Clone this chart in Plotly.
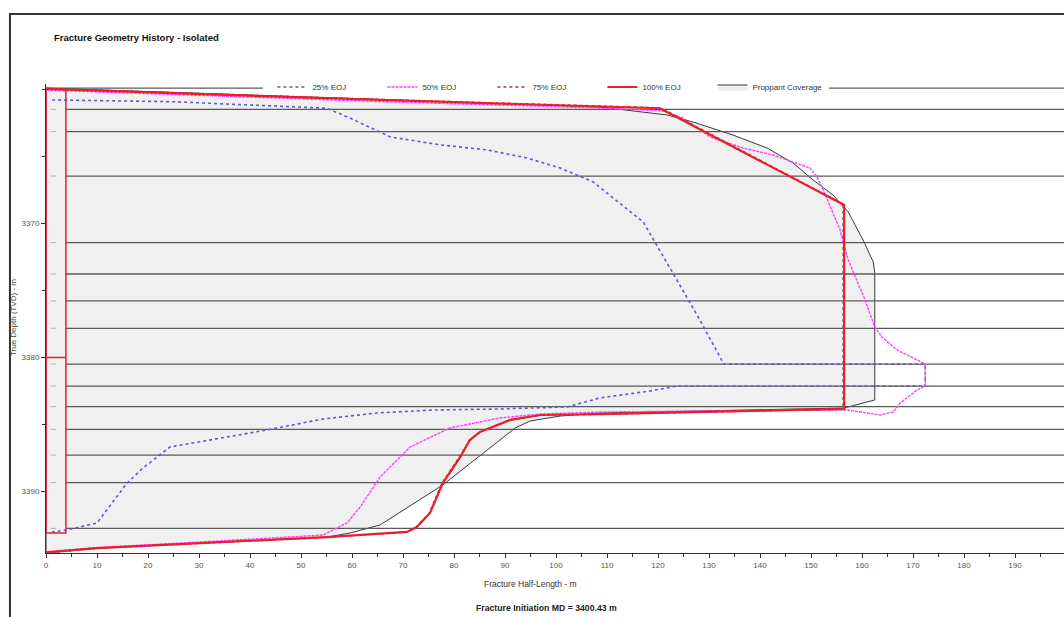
import plotly.graph_objects as go

# ---------------- data ----------------
# Layer boundaries (TVD, m)
layer_depths = [3359.9, 3361.48, 3363.15, 3366.46, 3371.43, 3373.77, 3375.78, 3377.82,
                3380.49, 3382.13, 3383.67, 3385.36, 3387.28, 3389.34, 3392.75]

# 25% EOJ
eoj25_x = [1.2, 24.9, 44.5, 55.1, 59.6, 67.5, 77.3, 86.5, 94.3, 100.8, 107.3, 117.1, 122.9,
           128.2, 132.9, 172.4, 172.4, 123.7, 118.4, 108.6, 102.2, 89.0, 75.9, 64.9, 54.3,
           43.3, 24.3, 19.0, 15.9, 10.0, 4.1, 1.2]
eoj25_d = [3360.78, 3360.91, 3361.23, 3361.40, 3362.13, 3363.54, 3364.13, 3364.51, 3365.11,
           3365.86, 3366.90, 3369.89, 3373.69, 3377.20, 3380.49, 3380.49, 3382.13, 3382.13,
           3382.50, 3383.02, 3383.69, 3383.84, 3383.92, 3384.14, 3384.59, 3385.41, 3386.68,
           3388.25, 3389.37, 3392.35, 3392.87, 3393.02]

# 50% EOJ
eoj50_x = [0.0, 65.5, 108.6, 121.0, 124.9, 130.2, 136.7, 142.5, 149.8, 151.2, 152.4, 154.3,
           155.7, 157.3, 159.0, 160.6, 162.5, 163.9, 166.9, 170.8, 172.4, 172.4, 170.8, 167.5,
           166.1, 163.5, 160.2, 157.1, 128.2, 108.6, 96.9, 89.0, 79.2, 71.4, 65.5, 61.6, 59.0,
           54.3, 30.2, 10.0, 0.0]
eoj50_d = [3360.04, 3360.90, 3361.38, 3361.60, 3362.13, 3363.54, 3364.37, 3364.89, 3365.86,
           3366.53, 3367.50, 3369.22, 3370.49, 3372.72, 3374.22, 3375.71, 3377.72, 3378.47,
           3379.44, 3380.19, 3380.49, 3382.13, 3382.43, 3383.40, 3384.07, 3384.29, 3384.07,
           3383.92, 3383.99, 3384.07, 3384.22, 3384.51, 3385.26, 3386.68, 3388.92, 3391.16,
           3392.35, 3393.25, 3393.77, 3394.18, 3394.51]

# 75% EOJ
eoj75_x = [0.0, 65.5, 120.0, 121.2, 156.3, 156.3, 108.6, 96.9, 91.0, 87.0, 85.0, 83.0, 81.0,
           77.6, 75.1, 72.5, 70.6, 55.1, 30.2, 10.0, 0.0]
eoj75_d = [3359.92, 3360.74, 3361.36, 3361.50, 3368.55, 3383.86, 3384.24, 3384.31, 3384.68,
           3385.28, 3385.58, 3386.18, 3387.45, 3389.39, 3391.62, 3392.67, 3393.04, 3393.42,
           3393.86, 3394.24, 3394.60]

# 100% EOJ
eoj100_x = [0.0, 65.5, 120.4, 121.0, 156.5, 156.5, 108.6, 96.9, 91.0, 87.1, 85.1, 83.1, 81.2,
            77.8, 75.3, 72.7, 70.8, 55.1, 30.2, 10.0, 0.0]
eoj100_d = [3359.96, 3360.78, 3361.40, 3361.53, 3368.62, 3383.84, 3384.22, 3384.29, 3384.66,
            3385.26, 3385.56, 3386.16, 3387.43, 3389.37, 3391.60, 3392.65, 3393.02, 3393.40,
            3393.84, 3394.22, 3394.55]

# Proppant coverage outline
prop_x = [0.0, 65.5, 108.6, 115.1, 121.8, 126.9, 134.7, 141.4, 146.5, 150.4, 154.3, 157.3,
          160.2, 162.2, 162.5, 162.5, 156.5, 108.6, 100.8, 94.9, 92.0, 89.0, 77.8, 65.5, 59.6,
          55.1, 30.2, 10.0, 0.0, 0.0]
prop_d = [3359.89, 3360.75, 3361.31, 3361.60, 3361.90, 3362.43, 3363.40, 3364.37, 3365.49,
          3366.75, 3367.87, 3369.14, 3371.23, 3372.87, 3373.69, 3383.17, 3383.77, 3384.14,
          3384.37, 3384.74, 3385.26, 3386.16, 3389.51, 3392.50, 3393.10, 3393.40, 3393.84,
          3394.22, 3394.59, 3359.89]

# Wellbore / perforation box
well_x = [0.0, 3.9]
well_d = [3359.9, 3393.1]
init_depth = 3380.0

x_ticks = [0, 10, 20, 30, 40, 50, 60, 70, 80, 90, 100, 110, 120, 130, 140, 150, 160, 170, 180, 190, 200]
y_ticks = [3370, 3380, 3390]
x_range = [0, 199.6]
y_range = [3394.59, 3359.59]

FONT = "Arial, Liberation Sans, sans-serif"

fig = go.Figure()

# proppant coverage (behind everything)
fig.add_trace(go.Scatter(x=prop_x, y=prop_d, mode="lines", fill="toself",
                         fillcolor="#f0f0f0", line=dict(color="#3a3a3a", width=1),
                         name="Proppant Coverage", legendrank=5, hoverinfo="skip"))

# layer boundary lines
lx, ly = [], []
for d in layer_depths[1:]:
    lx += [well_x[1], x_range[1], None]
    ly += [d, d, None]
fig.add_trace(go.Scatter(x=lx, y=ly, mode="lines", line=dict(color="#5a5a5a", width=1.3),
                         showlegend=False, hoverinfo="skip"))
# small marks inside wellbore box
mx, my = [], []
for d in layer_depths[1:]:
    mx += [0.9, 2.0, None]
    my += [d, d, None]
fig.add_trace(go.Scatter(x=mx, y=my, mode="lines", line=dict(color="#b0b0b0", width=1),
                         showlegend=False, hoverinfo="skip"))

fig.add_trace(go.Scatter(x=eoj25_x, y=eoj25_d, mode="lines", name="25% EOJ", legendrank=1,
                         line=dict(color="#5a5ad6", width=1.6, dash="dot")))
fig.add_trace(go.Scatter(x=eoj50_x, y=eoj50_d, mode="lines", name="50% EOJ", legendrank=2,
                         line=dict(color="#ff40ff", width=1.4, dash="3px,1px")))
fig.add_trace(go.Scatter(x=eoj75_x, y=eoj75_d, mode="lines", name="75% EOJ", legendrank=3,
                         line=dict(color="#b03048", width=1.4, dash="dot")))
fig.add_trace(go.Scatter(x=eoj100_x, y=eoj100_d, mode="lines", name="100% EOJ", legendrank=4,
                         line=dict(color="#e8202c", width=2.2)))

shapes = []
# wellbore box
shapes.append(dict(type="rect", xref="x", yref="y", x0=well_x[0], x1=well_x[1],
                   y0=well_d[0], y1=well_d[1], line=dict(color="#e02030", width=1.5), layer="above"))
shapes.append(dict(type="line", xref="x", yref="y", x0=well_x[0], x1=well_x[1],
                   y0=init_depth, y1=init_depth, line=dict(color="#e02030", width=1.5), layer="above"))
# top layer line with gap for the legend
shapes.append(dict(type="line", xref="x", yref="y", x0=well_x[1], x1=42.5,
                   y0=layer_depths[0], y1=layer_depths[0], line=dict(color="#5a5a5a", width=1.2)))
shapes.append(dict(type="line", xref="x", yref="y", x0=153.5, x1=x_range[1],
                   y0=layer_depths[0], y1=layer_depths[0], line=dict(color="#5a5a5a", width=1.2)))
# outer frame
shapes.append(dict(type="rect", xref="paper", yref="paper", x0=-0.0354, x1=1.01,
                   y0=-0.2, y1=1.149, line=dict(color="#333333", width=2)))

annotations = [
    dict(text="<b>Fracture Geometry History - Isolated</b>", xref="paper", yref="paper",
         x=0.0059, y=1.1002, xanchor="left", yanchor="middle", showarrow=False,
         font=dict(family=FONT, size=9.5, color="#111")),
    dict(text="Fracture Half-Length - m", xref="paper", yref="paper", x=0.4764, y=-0.0661,
         xanchor="center", yanchor="middle", showarrow=False,
         font=dict(family=FONT, size=8.5, color="#333")),
    dict(text="<b>Fracture Initiation MD = 3400.43 m</b>", xref="paper", yref="paper",
         x=0.4912, y=-0.1173, xanchor="center", yanchor="middle", showarrow=False,
         font=dict(family=FONT, size=8.7, color="#222")),
    dict(text="True Depth (TVD) - m", xref="paper", yref="paper", x=-0.0324, y=0.501,
         xanchor="center", yanchor="middle", textangle=-90, showarrow=False,
         font=dict(family=FONT, size=8, color="#444")),
]

fig.update_layout(
    width=1064, height=617,
    margin=dict(l=46, r=0, t=84, b=64),
    paper_bgcolor="white", plot_bgcolor="white",
    font=dict(family=FONT, size=8, color="#444"),
    shapes=shapes, annotations=annotations,
    legend=dict(orientation="h", x=0.2224, y=0.9936, xanchor="left", yanchor="middle",
                bgcolor="rgba(0,0,0,0)", font=dict(family=FONT, size=8, color="#333"),
                entrywidth=65, entrywidthmode="pixels", itemwidth=30),
    xaxis=dict(range=x_range, tickvals=x_ticks, ticks="outside", ticklen=4, tickcolor="#333",
               showline=True, linecolor="#333", linewidth=1, showgrid=False, zeroline=False,
               tickfont=dict(size=8, color="#555"),
               minor=dict(dtick=5, ticks="outside", ticklen=3, tickcolor="#333")),
    yaxis=dict(range=y_range, tickvals=y_ticks, ticks="outside", ticklen=4, tickcolor="#333",
               showline=True, linecolor="#333", linewidth=1, showgrid=False, zeroline=False,
               tickfont=dict(size=8, color="#555"),
               minor=dict(dtick=5, ticks="outside", ticklen=3, tickcolor="#333")),
    showlegend=True,
)

fig.write_html("out.html")
